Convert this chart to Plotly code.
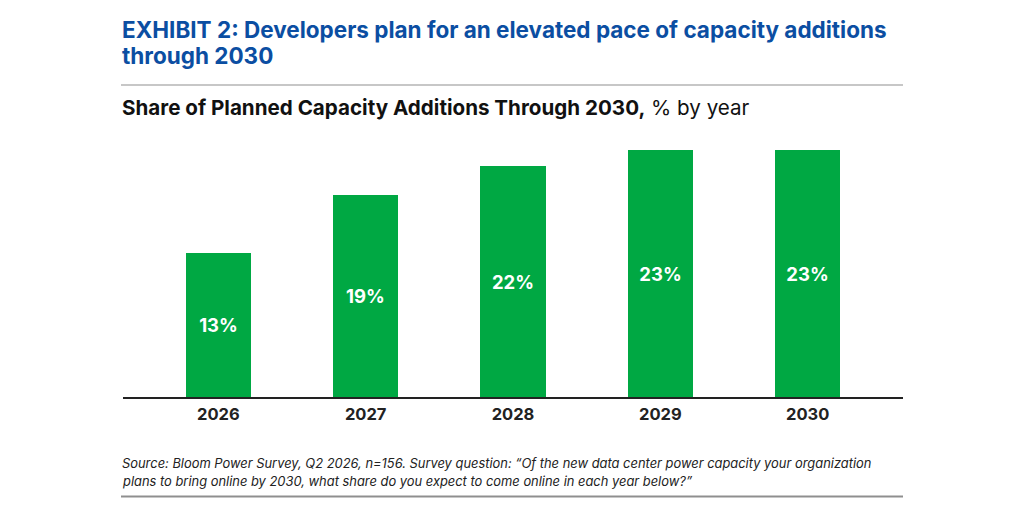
import plotly.graph_objects as go

years = ["2026", "2027", "2028", "2029", "2030"]
shares = [13.5, 19.0, 21.7, 23.2, 23.2]
share_labels = ["13%", "19%", "22%", "23%", "23%"]

GREEN = "#00a843"
BLUE = "#0b4ea2"
FONT = "Inter, Roboto, sans-serif"

x_idx = list(range(len(years)))

fig = go.Figure()
fig.add_trace(go.Bar(
    x=x_idx, y=shares, width=0.443,
    marker=dict(color=GREEN, line=dict(width=0)),
    text=share_labels, textposition="inside", insidetextanchor="middle",
    textfont=dict(family=FONT, size=18.5, color="white", weight=700),
    hoverinfo="skip",
))

L, R, T, B = 123, 121, 131, 114.7
W, H = 1024, 512
pw = W - L - R
ph = H - T - B

def px(x):
    return (x - L) / pw

def py(y):
    return (H - B - y) / ph

fig.update_layout(
    width=W, height=H,
    margin=dict(l=L, r=R, t=T, b=B, pad=0),
    paper_bgcolor="white", plot_bgcolor="white",
    showlegend=False,
    bargap=0,
    xaxis=dict(
        range=[-0.647, 4.647], tickmode="array", tickvals=x_idx, ticktext=years,
        showgrid=False, zeroline=False, showline=True, linecolor="#222222", linewidth=1.5,
        ticks="outside", ticklen=1, tickcolor="rgba(0,0,0,0)",
        tickfont=dict(family=FONT, size=16.5, color="#222222", weight=700),
        fixedrange=True,
    ),
    yaxis=dict(range=[0, 25], visible=False, fixedrange=True),
    annotations=[
        dict(xref="paper", yref="paper", x=px(120), y=py(29), xanchor="left", yanchor="middle",
             text="EXHIBIT 2: Developers plan for an elevated pace of capacity additions",
             showarrow=False, font=dict(family=FONT, size=22.5, color=BLUE, weight=700)),
        dict(xref="paper", yref="paper", x=px(120), y=py(55), xanchor="left", yanchor="middle",
             text="through 2030",
             showarrow=False, font=dict(family=FONT, size=22.5, color=BLUE, weight=700)),
        dict(xref="paper", yref="paper", x=px(120), y=py(107), xanchor="left", yanchor="middle",
             text="<b>Share of Planned Capacity Additions Through 2030,</b> % by year",
             showarrow=False, font=dict(family=FONT, size=20.6, color="#111111")),
        dict(xref="paper", yref="paper", x=px(120), y=py(464), xanchor="left", yanchor="middle",
             text="<i>Source: Bloom Power Survey, Q2 2026, n=156. Survey question: \u201cOf the new data center power capacity your organization</i>",
             showarrow=False, font=dict(family=FONT, size=12.9, color="#222222")),
        dict(xref="paper", yref="paper", x=px(120), y=py(482), xanchor="left", yanchor="middle",
             text="<i>plans to bring online by 2030, what share do you expect to come online in each year below?\u201d</i>",
             showarrow=False, font=dict(family=FONT, size=12.9, color="#222222")),
    ],
    shapes=[
        dict(type="line", xref="paper", yref="paper", x0=px(121), x1=px(903), y0=py(85), y1=py(85),
             line=dict(color="#b5b5b5", width=1.5)),
        dict(type="line", xref="paper", yref="paper", x0=px(121), x1=px(903), y0=py(497), y1=py(497),
             line=dict(color="#8f8f8f", width=2)),
    ],
)

fig.write_html("out.html")
